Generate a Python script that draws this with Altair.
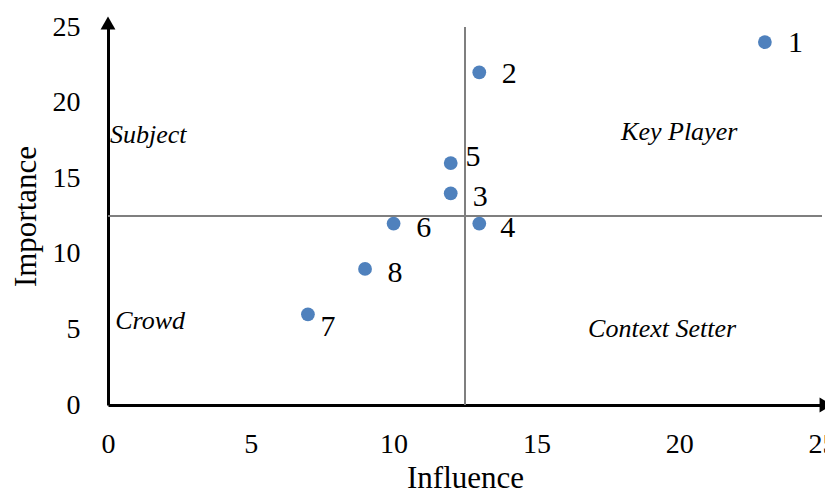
import altair as alt
import pandas as pd

# data
ids = ["1", "2", "3", "4", "5", "6", "7", "8"]
influence = [23, 13, 12, 13, 12, 10, 7, 9]
importance = [24, 22, 14, 12, 16, 12, 6, 9]
label_x = [24.07, 14.05, 13.03, 14.0, 12.78, 11.06, 7.7, 10.05]
label_y = [23.94, 21.9, 13.76, 11.7, 16.4, 11.7, 5.16, 8.73]

quad_names = ["Subject", "Key Player", "Crowd", "Context Setter"]
quad_x = [0.07, 20.0, 0.25, 19.4]
quad_y = [17.86, 18.05, 5.56, 5.0]
quad_align = ["left", "center", "left", "center"]

mid_x = 12.5
mid_y = 12.5
axis_max = 25
axis_ticks = [0, 5, 10, 15, 20, 25]

pts = pd.DataFrame({"id": ids, "Influence": influence, "Importance": importance,
                    "lx": label_x, "ly": label_y})
quad = pd.DataFrame({"name": quad_names, "x": quad_x, "y": quad_y, "align": quad_align})

FONT = "Liberation Serif"

xscale = alt.Scale(domain=[0, axis_max], nice=False, zero=True)
yscale = alt.Scale(domain=[0, axis_max], nice=False, zero=True)

xaxis = alt.Axis(title="Influence", values=axis_ticks, ticks=False, grid=False,
                 domainColor="black", domainWidth=3, labelFont=FONT, labelFontSize=28,
                 labelColor="black", labelPadding=25, titleFont=FONT, titleFontSize=31,
                 titleFontWeight="normal", titleColor="black", titlePadding=5,
                 labelFlush=False)
yaxis = alt.Axis(title="Importance", values=axis_ticks, ticks=False, grid=False,
                 domainColor="black", domainWidth=3, labelFont=FONT, labelFontSize=28,
                 labelColor="black", labelPadding=28, titleFont=FONT, titleFontSize=31,
                 titleFontWeight="normal", titleColor="black", titlePadding=10,
                 labelFlush=False)

base = alt.Chart(pts)

hline = alt.Chart(pd.DataFrame({"y": [mid_y], "x0": [0], "x1": [axis_max]})).mark_rule(
    color="#7f7f7f", strokeWidth=2, clip=False).encode(
    y=alt.Y("y:Q", scale=yscale, axis=yaxis),
    x=alt.X("x0:Q", scale=xscale, axis=xaxis),
    x2="x1:Q")
vline = alt.Chart(pd.DataFrame({"x": [mid_x], "y0": [0], "y1": [axis_max]})).mark_rule(
    color="#7f7f7f", strokeWidth=2, clip=False).encode(
    x=alt.X("x:Q", scale=xscale), y=alt.Y("y0:Q", scale=yscale), y2="y1:Q")

points = base.mark_circle(size=190, color="#4f81bd", opacity=1, clip=False).encode(
    x=alt.X("Influence:Q", scale=xscale),
    y=alt.Y("Importance:Q", scale=yscale))

labels = base.mark_text(font=FONT, fontSize=30, color="black", align="center",
                        baseline="middle", clip=False).encode(
    x=alt.X("lx:Q", scale=xscale), y=alt.Y("ly:Q", scale=yscale), text="id:N")

qtext_left = alt.Chart(quad[quad["align"] == "left"]).mark_text(
    font=FONT, fontSize=26, fontStyle="italic", color="black", align="left",
    baseline="middle", clip=False).encode(
    x=alt.X("x:Q", scale=xscale), y=alt.Y("y:Q", scale=yscale), text="name:N")
qtext_center = alt.Chart(quad[quad["align"] == "center"]).mark_text(
    font=FONT, fontSize=26, fontStyle="italic", color="black", align="center",
    baseline="middle", clip=False).encode(
    x=alt.X("x:Q", scale=xscale), y=alt.Y("y:Q", scale=yscale), text="name:N")

arrow_up = alt.Chart(pd.DataFrame({"x": [0], "y": [axis_max]})).mark_point(
    shape="triangle-up", size=220, filled=True, color="black", opacity=1,
    yOffset=-4, clip=False).encode(x=alt.X("x:Q", scale=xscale), y=alt.Y("y:Q", scale=yscale))
arrow_right = alt.Chart(pd.DataFrame({"x": [axis_max], "y": [0]})).mark_point(
    shape="triangle-right", size=220, filled=True, color="black", opacity=1,
    xOffset=4, clip=False).encode(x=alt.X("x:Q", scale=xscale), y=alt.Y("y:Q", scale=yscale))

chart = alt.layer(hline, vline, points, labels, qtext_left, qtext_center,
                  arrow_up, arrow_right).properties(
    width=714, height=378,
    autosize=alt.AutoSizeParams(type="none"),
    padding={"left": 100, "top": 19, "right": 3, "bottom": 90},
).configure_view(stroke=None)

chart.save("out.html", embed_options={"renderer": "svg", "actions": False})
